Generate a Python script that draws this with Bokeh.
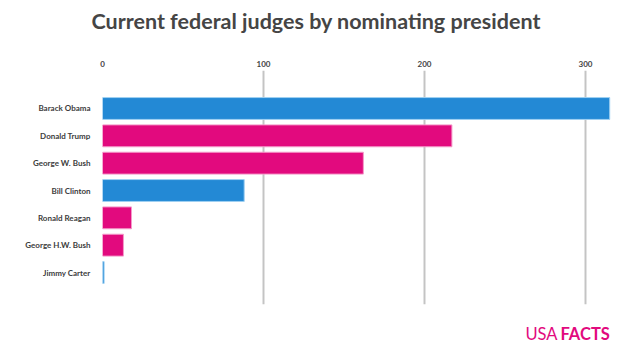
from bokeh.plotting import figure
from bokeh.models import Range1d, FixedTicker, Label, Title
from bokeh.layouts import column
from bokeh.embed import file_html
from bokeh.resources import INLINE

presidents = ["Barack Obama", "Donald Trump", "George W. Bush", "Bill Clinton",
              "Ronald Reagan", "George H.W. Bush", "Jimmy Carter"]
judges = [315, 217, 162, 88, 18, 13, 1]
party = ["D", "R", "R", "D", "R", "R", "D"]
x_ticks = [0, 100, 200, 300]
title_text = "Current federal judges by nominating president"

BLUE = "#2389d5"
PINK = "#e20a7e"
fills = [BLUE if q == "D" else PINK for q in party]
lines = ["#9fd0f2" if q == "D" else "#f49ac9" for q in party]
ypos = list(range(len(presidents)))

W = 630
HEAD_H, MAIN_H, FOOT_H = 40, 275, 36
FL, FR = 102, 615  # frame left / right in canvas pixels


def blank(height):
    f = figure(width=W, height=height, output_backend="svg", toolbar_location=None,
               x_axis_type=None, y_axis_type=None, x_range=Range1d(0, 1), y_range=Range1d(0, 1),
               min_border_left=FL, min_border_right=W - FR, min_border_top=0, min_border_bottom=0)
    f.outline_line_color = None
    f.grid.grid_line_color = None
    f.background_fill_color = "white"
    f.border_fill_color = "white"
    return f


head = blank(HEAD_H)
head.title = Title(text=title_text, align="left", offset=91 - FL, vertical_align="bottom",
                   text_font="Lato", text_font_style="bold", text_font_size="21.5px",
                   text_color="#454545", standoff=10)

p = figure(width=W, height=MAIN_H, output_backend="svg", toolbar_location=None,
           x_axis_location="above",
           x_range=Range1d(0, 318.6), y_range=Range1d(len(presidents) + 0.17, -1.39),
           min_border_left=FL, min_border_right=W - FR, min_border_top=70 - HEAD_H,
           min_border_bottom=HEAD_H + MAIN_H - 304)
p.outline_line_color = None
p.background_fill_color = "white"
p.border_fill_color = "white"

p.hbar(y=ypos, right=judges, left=0, height=0.8, fill_color=fills,
       line_color=lines, line_width=1)

p.xaxis.ticker = FixedTicker(ticks=x_ticks)
p.xaxis.axis_line_color = None
p.xaxis.major_tick_line_color = None
p.xaxis.minor_tick_line_color = None
p.xaxis.major_label_text_font = "Lato"
p.xaxis.major_label_text_font_style = "bold"
p.xaxis.major_label_text_font_size = "8px"
p.xaxis.major_label_text_color = "#444444"
p.xaxis.major_label_standoff = -2

p.yaxis.ticker = FixedTicker(ticks=ypos)
p.yaxis.major_label_overrides = {i: n for i, n in enumerate(presidents)}
p.yaxis.axis_line_color = None
p.yaxis.major_tick_line_color = None
p.yaxis.minor_tick_line_color = None
p.yaxis.major_label_text_font = "Lato"
p.yaxis.major_label_text_font_style = "bold"
p.yaxis.major_label_text_font_size = "8px"
p.yaxis.major_label_text_color = "#3c3c3c"
p.yaxis.major_label_standoff = 6

p.xgrid.ticker = FixedTicker(ticks=x_ticks)
p.xgrid.grid_line_color = "#c4c4c4"
p.xgrid.grid_line_width = 2
p.ygrid.grid_line_color = None

foot = blank(FOOT_H)
# foot frame starts at canvas x = FL
foot.add_layout(Label(x=557 - FL, y=FOOT_H - 18, x_units="screen", y_units="screen", text="USA",
                      text_font="Lato", text_font_style="normal", text_font_size="16.5px",
                      text_color=PINK, text_align="right", text_baseline="middle"))
foot.add_layout(Label(x=560 - FL, y=FOOT_H - 18, x_units="screen", y_units="screen", text="FACTS",
                      text_font="Lato", text_font_style="bold", text_font_size="16.5px",
                      text_color=PINK, text_align="left", text_baseline="middle"))

layout = column(head, p, foot, spacing=0)
open("out.html", "w").write(file_html(layout, INLINE))
